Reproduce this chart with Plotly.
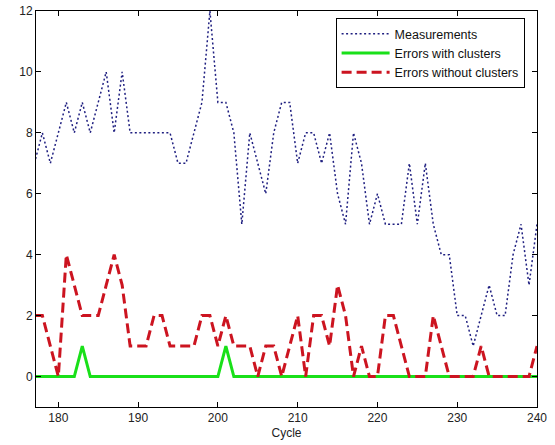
import plotly.graph_objects as go

cycles = list(range(177, 241))

measurements = [7, 8, 7, 8, 9, 8, 9, 8, 9, 10,
                8, 10, 8, 8, 8, 8, 8, 8, 7, 7,
                8, 9, 12, 9, 9, 8, 5, 8, 7, 6,
                8, 9, 9, 7, 8, 8, 7, 8, 6, 5,
                8, 7, 5, 6, 5, 5, 5, 7, 5, 7,
                5, 4, 4, 2, 2, 1, 2, 3, 2, 2,
                4, 5, 3, 5]

errors_with = [0] * 64
errors_with[183 - 177] = 1
errors_with[201 - 177] = 1

errors_without = [2, 2, 1, 0, 4, 3, 2, 2, 2, 3,
                  4, 3, 1, 1, 1, 2, 2, 1, 1, 1,
                  1, 2, 2, 1, 2, 1, 1, 1, 0, 1,
                  1, 0, 1, 2, 0, 2, 2, 1, 3, 2,
                  0, 1, 0, 0, 2, 2, 1, 0, 0, 0,
                  2, 1, 0, 0, 0, 0, 1, 0, 0, 0,
                  0, 0, 0, 1]

x_ticks = [180, 190, 200, 210, 220, 230, 240]
y_ticks = [0, 2, 4, 6, 8, 10, 12]

fig = go.Figure()
fig.add_trace(go.Scatter(x=cycles, y=measurements, mode="lines", name="Measurements",
                         line=dict(color="#1f1f80", width=1.5, dash="2px,2.5px")))
fig.add_trace(go.Scatter(x=cycles, y=errors_with, mode="lines", name="Errors with clusters",
                         line=dict(color="#19e019", width=3)))
fig.add_trace(go.Scatter(x=cycles, y=errors_without, mode="lines", name="Errors without clusters",
                         line=dict(color="#cc1420", width=3, dash="10px,5px")))

axis_common = dict(showline=True, linecolor="black", linewidth=1, mirror="ticks",
                   ticks="inside", ticklen=5, tickcolor="black", showgrid=False,
                   zeroline=False, automargin=False,
                   tickfont=dict(family="Liberation Sans, Arial", size=12, color="#222"))

fig.update_xaxes(range=[177.2, 240], tickvals=x_ticks,
                 title=dict(text="Cycle", font=dict(family="Liberation Sans, Arial", size=12, color="#222"), standoff=4),
                 **axis_common)
fig.update_yaxes(range=[-1, 12], tickvals=y_ticks, **axis_common)

fig.update_layout(
    width=555, height=445,
    margin=dict(l=36, r=18, t=11, b=38),
    paper_bgcolor="white", plot_bgcolor="white",
    showlegend=True,
    legend=dict(x=0.598, y=0.982, xanchor="left", yanchor="top",
                bgcolor="white", bordercolor="black", borderwidth=1,
                font=dict(family="Liberation Sans, Arial", size=12.5, color="#111"),
                tracegroupgap=0, itemwidth=48),
)

fig.write_html("out.html", config={"displayModeBar": False},
               post_script="document.body.style.margin='0';document.body.style.overflow='hidden';")
